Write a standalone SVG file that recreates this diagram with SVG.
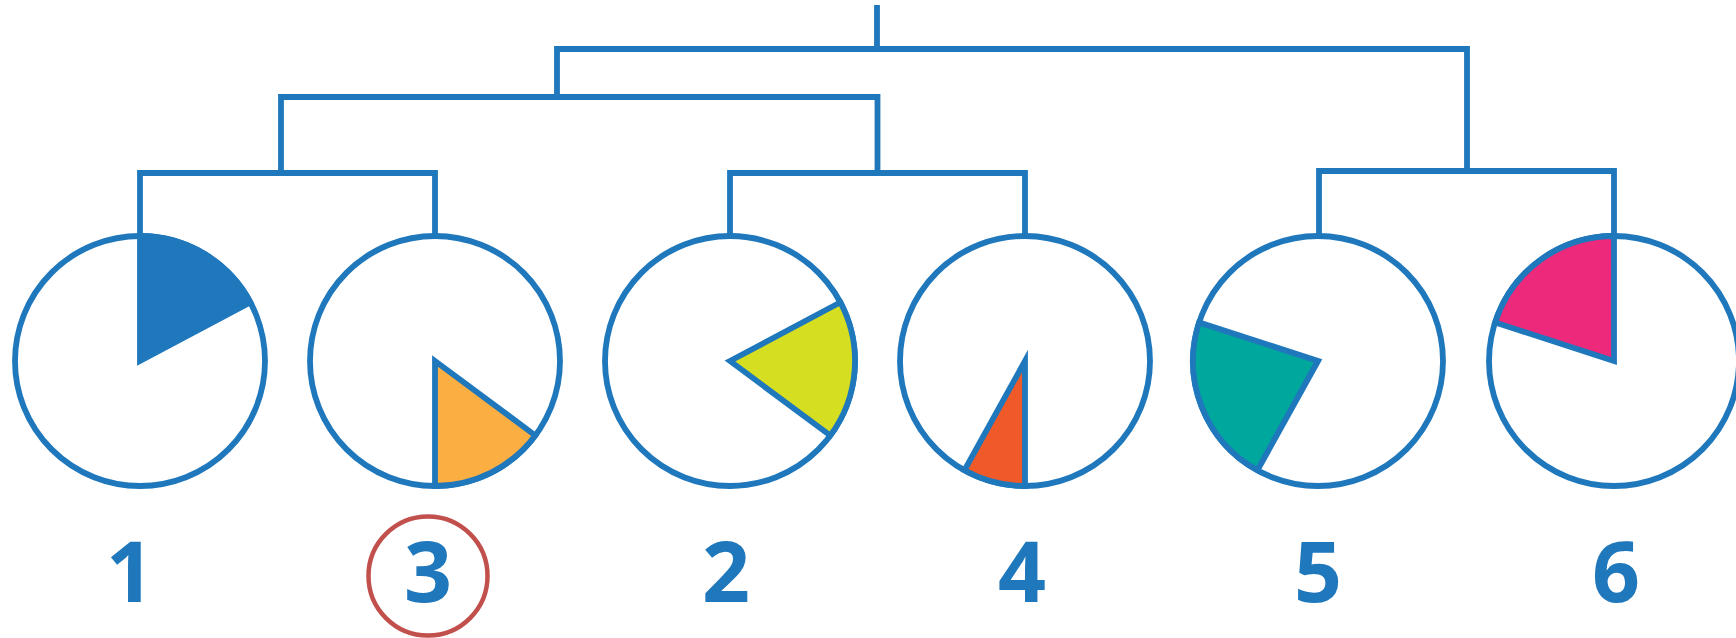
<svg xmlns="http://www.w3.org/2000/svg" width="1736" height="638" viewBox="0 0 1736 638">
<style>
.ln{fill:none;stroke:#1F77BC;stroke-width:5.8;stroke-linejoin:miter;stroke-linecap:butt}
.ring{fill:#FFFFFF;stroke:#1F77BC;stroke-width:5.8}
.wedge{stroke:#1F77BC;stroke-width:5.8;stroke-linejoin:miter;stroke-miterlimit:6}
.lbl{font-family:"Open Sans","Liberation Sans",sans-serif;font-weight:700;font-size:84px;fill:#1F77BC;text-anchor:middle}
</style>
<rect width="1736" height="638" fill="#FFFFFF"/>
<g id="connectors">
<path class="ln" d="M877,5 V49"/>
<path class="ln" d="M557,97 V49 H1467 V171"/>
<path class="ln" d="M281,173 V97 H877.5 V173"/>
<path class="ln" d="M140,236 V173 H435 V236"/>
<path class="ln" d="M730,236 V173 H1025 V236"/>
<path class="ln" d="M1319,236 V171 H1614 V236"/>
</g>
<g id="node-1">
<circle class="ring" cx="140" cy="361" r="125"/>
<path class="wedge" fill="#1F77BC" d="M140,361 L140,236 A125,125 0 0 1 250.4,302.3 Z"/>
<text class="lbl" x="130" y="602">1</text>
</g>
<g id="node-3">
<circle class="ring" cx="435" cy="361" r="125"/>
<path class="wedge" fill="#FBAE42" d="M435,361 L535.3,435.5 A125,125 0 0 1 435,486 Z"/>
<circle cx="428" cy="576" r="59.5" fill="none" stroke="#C1504D" stroke-width="4.5"/>
<text class="lbl" x="428" y="602">3</text>
</g>
<g id="node-2">
<circle class="ring" cx="730" cy="361" r="125"/>
<path class="wedge" fill="#D6DE21" d="M730,361 L840.4,302.3 A125,125 0 0 1 830.3,435.5 Z"/>
<text class="lbl" x="726" y="602">2</text>
</g>
<g id="node-4">
<circle class="ring" cx="1025" cy="361" r="125"/>
<path class="wedge" fill="#EF5A28" d="M1025,361 L1025,486 A125,125 0 0 1 964.4,470.3 Z"/>
<text class="lbl" x="1022" y="602">4</text>
</g>
<g id="node-5">
<circle class="ring" cx="1318" cy="361" r="125"/>
<path class="wedge" fill="#00A79D" d="M1318,361 L1257.4,470.3 A125,125 0 0 1 1199.1,322.4 Z"/>
<text class="lbl" x="1318" y="602">5</text>
</g>
<g id="node-6">
<circle class="ring" cx="1614" cy="361" r="125"/>
<path class="wedge" fill="#EC297B" d="M1614,361 L1495.1,322.4 A125,125 0 0 1 1614,236 Z"/>
<text class="lbl" x="1616" y="602">6</text>
</g>
</svg>
